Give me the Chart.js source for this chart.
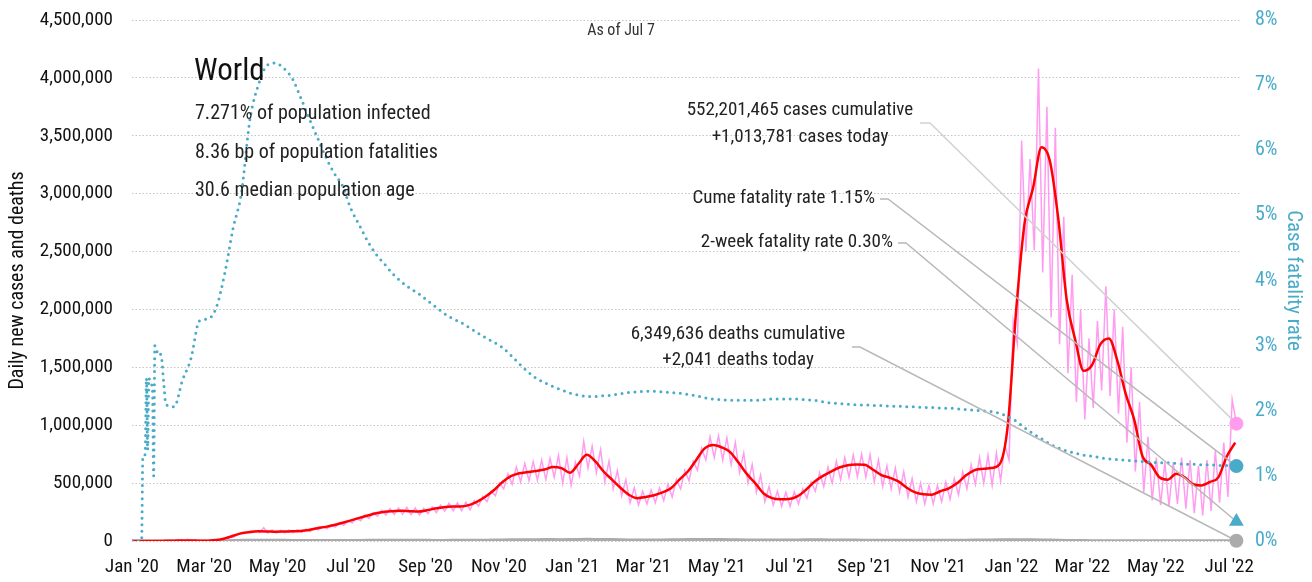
<!DOCTYPE html>
<html>
<head>
<meta charset="utf-8">
<script src="https://cdn.jsdelivr.net/npm/chart.js@4.4.1/dist/chart.umd.min.js"></script>
<style>
  html, body { margin: 0; padding: 0; background: #fff; }
  #wrap { width: 1312px; height: 582px; position: relative; }
</style>
</head>
<body>
<div id="wrap"><canvas id="covid"></canvas></div>
<script>
// World, as of Jul 7 2022. x = days since Jan 1 2020.
// weekly series: entry w sits at day 7*w (daily cases: low at 7w+1, high at 7w+4.5)

const tickDays = [0, 60, 121, 182, 244, 305, 366, 425, 486, 547, 609, 670, 731, 790, 851, 912];
const tickLabels = ["Jan '20", "Mar '20", "May '20", "Jul '20", "Sep '20", "Nov '20", "Jan '21", "Mar '21",
  "May '21", "Jul '21", "Sep '21", "Nov '21", "Jan '22", "Mar '22", "May '22", "Jul '22"];

// 7-day average new cases, thousands (w0..w131)
const avgCases = [
  0, 0, 0, 0.1, 1.5, 2.5, 4, 5, 2, 3,
  8, 22, 45, 68, 78, 84, 83, 80, 81, 84,
  87, 95, 110, 122, 138, 158, 178, 200, 220, 240,
  252, 258, 262, 258, 255, 265, 280, 292, 298, 298,
  310, 340, 385, 440, 510, 560, 585, 595, 605, 618,
  640, 630, 590, 665, 745, 690, 600, 530, 460, 400,
  370, 380, 395, 420, 455, 530, 600, 700, 800, 830,
  810, 770, 680, 580, 500, 410, 370, 360, 362, 385,
  440, 510, 560, 600, 635, 655, 660, 658, 615, 570,
  545, 515, 460, 420, 403, 400, 430, 455, 500, 565,
  610, 623, 630, 660, 1000, 2000, 2750, 3050, 3400, 3280,
  2780, 2080, 1740, 1470, 1520, 1700, 1750, 1560, 1270, 1050,
  730, 660, 550, 530, 580, 550, 490, 480, 510, 550,
  730, 850
];

// daily new cases, weekly trough and peak, thousands (w0..w130)
const dailyLow = [
  0, 0, 0, 0.3, 1, 2, 2, 2, 1, 2,
  5, 15, 35, 60, 70, 72, 70, 68, 70, 72,
  75, 82, 95, 105, 120, 135, 155, 175, 195, 215,
  225, 230, 232, 228, 225, 235, 245, 258, 262, 262,
  270, 300, 340, 390, 450, 490, 510, 520, 525, 530,
  550, 500, 480, 560, 630, 590, 510, 450, 390, 330,
  310, 320, 330, 350, 380, 450, 520, 610, 700, 720,
  700, 660, 590, 500, 420, 340, 310, 300, 300, 320,
  370, 430, 470, 500, 530, 550, 555, 550, 510, 470,
  450, 420, 380, 340, 320, 320, 340, 360, 400, 450,
  490, 500, 480, 520, 700, 1700, 2500, 2510, 2320, 1930,
  1700, 1450, 1200, 1050, 1150, 1300, 1250, 1100, 850, 600,
  420, 350, 310, 300, 320, 280, 240, 220, 260, 330,
  380
];
const dailyHigh = [
  0, 0, 0.5, 1, 3, 4, 15, 6, 3, 5,
  15, 30, 60, 80, 90, 115, 95, 92, 95, 98,
  102, 110, 125, 140, 155, 178, 198, 222, 245, 265,
  280, 285, 290, 285, 282, 295, 310, 325, 330, 335,
  350, 385, 430, 500, 580, 640, 670, 685, 700, 715,
  740, 720, 680, 860, 820, 790, 690, 610, 530, 460,
  430, 440, 460, 490, 530, 610, 690, 800, 900, 910,
  890, 850, 760, 660, 570, 470, 430, 420, 425, 450,
  510, 590, 640, 690, 720, 745, 750, 745, 700, 650,
  630, 600, 540, 500, 480, 480, 510, 540, 600, 660,
  720, 740, 760, 830, 1900, 3460, 3300, 4080, 3750, 3570,
  2800, 2300, 2000, 1750, 1900, 2200, 2000, 1850, 1500, 1200,
  900, 720, 680, 680, 720, 700, 650, 700, 780, 850,
  1220
];

// daily new deaths, 7-day average, thousands (w0..w131)
const avgDeaths = [
  0, 0, 0, 0, 0.03, 0.05, 0.08, 0.1, 0.1, 0.1,
  0.4, 1.5, 3.5, 5.5, 7, 7, 6.5, 6, 5.5, 5,
  4.5, 4.5, 4.5, 4.5, 4.5, 4.8, 5, 5.3, 5.6, 5.8,
  6, 6, 6, 5.8, 5.6, 5.5, 5.3, 5.3, 5.4, 5.5,
  5.8, 6.3, 7, 8, 9.5, 10.5, 11, 11.5, 11.8, 12,
  12, 11.5, 12.5, 14, 14.5, 14, 13, 12, 10.5, 9.5,
  9, 8.8, 8.8, 9.5, 10.5, 11.5, 12.5, 13.5, 13.5, 13,
  12, 11, 10, 9, 8.5, 8, 8, 8.3, 9, 9.5,
  10, 10, 9.8, 9.5, 9, 8.5, 8, 7.5, 7, 7,
  7, 7, 6.8, 6.8, 6.5, 6.3, 6.5, 7, 7.3, 7.5,
  8, 9, 9.5, 10, 10.5, 11, 11, 10, 9, 8,
  6.5, 5, 4, 3.5, 3, 2.5, 2.3, 2.1, 2, 1.9,
  1.8, 1.7, 1.7, 1.7, 1.6, 1.6, 1.6, 1.6, 1.7, 1.8,
  1.9, 2
];

// cumulative case fatality rate, %: daily for days 0..27, then weekly from w4
const cfrFirstDays = [
  0, 0, 0, 0, 0, 0, 0, 0, 0, 1.3,
  1.3, 1.35, 2.5, 1.4, 2.5, 2.45, 2.4, 2.35, 1.0, 3.0,
  2.95, 2.9, 2.88, 2.9, 2.85, 2.75, 2.5, 2.3
];
const cfrWeekly = [
  2.1, 2.06, 2.47, 2.8, 3.38, 3.41,
  3.58, 4.1, 4.8, 5.35, 6.47, 7.0, 7.3, 7.34, 7.26, 7.11,
  6.82, 6.5, 6.2, 5.9, 5.65, 5.45, 5.1, 4.85, 4.6, 4.4,
  4.25, 4.1, 3.98, 3.88, 3.8, 3.7, 3.6, 3.5, 3.42, 3.36,
  3.28, 3.2, 3.12, 3.05, 2.97, 2.85, 2.72, 2.6, 2.5, 2.43,
  2.37, 2.32, 2.27, 2.24, 2.22, 2.22, 2.23, 2.24, 2.26, 2.28,
  2.29, 2.3, 2.3, 2.29, 2.28, 2.27, 2.25, 2.23, 2.2, 2.18,
  2.17, 2.16, 2.16, 2.16, 2.16, 2.17, 2.18, 2.18, 2.18, 2.18,
  2.17, 2.16, 2.14, 2.12, 2.11, 2.1, 2.09, 2.09, 2.08, 2.08,
  2.07, 2.07, 2.06, 2.06, 2.05, 2.05, 2.04, 2.04, 2.03, 2.02,
  2.01, 2.0, 1.99, 1.96, 1.91, 1.84, 1.74, 1.65, 1.57, 1.49,
  1.43, 1.38, 1.35, 1.32, 1.3, 1.28, 1.26, 1.25, 1.24, 1.23,
  1.22, 1.21, 1.2, 1.2, 1.19, 1.18, 1.18, 1.17, 1.17, 1.16,
  1.16, 1.15
];

// latest figures
const lastDay = 918; // Jul 7 2022
const casesCumulative = 552201465;
const casesToday = 1013781;
const deathsCumulative = 6349636;
const deathsToday = 2041;
const cumeFatalityRate = 1.15;
const twoWeekFatalityRate = 0.30;
const pctInfected = '7.271';
const bpFatalities = '8.36';
const medianAge = '30.6';

const FONT = "'Roboto Condensed', 'DejaVu Sans Condensed', sans-serif";
const PINK = '#ff9cf0', RED = '#ff0000', TEAL = '#4aabc9', GRAY = '#ababab';

// build point lists for the library
const avgPts = avgCases.map((v, w) => ({ x: 7 * w, y: v * 1000 }));
const dailyPts = [];
dailyLow.forEach((v, w) => {
  dailyPts.push({ x: 7 * w + 1, y: v * 1000 });
  dailyPts.push({ x: 7 * w + 4.5, y: dailyHigh[w] * 1000 });
});
dailyPts.push({ x: lastDay, y: casesToday });
const deathPts = avgDeaths.map((v, w) => ({ x: 7 * w, y: v * 1000 }));
const cfrPts = cfrFirstDays.map((v, d) => ({ x: d, y: v }))
  .concat(cfrWeekly.map((v, i) => ({ x: 7 * (i + 4), y: v })));

const fmt = n => n.toLocaleString('en-US');

function text(ctx, s, x, y, size, align, color) {
  ctx.save();
  ctx.font = size + 'px ' + FONT;
  ctx.fillStyle = color || '#222';
  ctx.textAlign = align || 'left';
  ctx.textBaseline = 'middle';
  ctx.fillText(s, x, y);
  ctx.restore();
}

// callout text + leader lines to the end markers
const callouts = {
  id: 'callouts',
  afterDatasetDraw(chart, args) {
    if (args.index !== 4) return; // right after the fatality-rate line, below the markers
    const ctx = chart.ctx, xs = chart.scales.x, y = chart.scales.y, y1 = chart.scales.y1;
    const ex = xs.getPixelForValue(lastDay);
    const leaders = [
      { from: [920, 123], elbow: [930, 123], to: [ex, y.getPixelForValue(casesToday)], color: '#d2d2d2' },
      { from: [880, 199], elbow: [888, 199], to: [ex, y1.getPixelForValue(cumeFatalityRate)], color: '#b8b8b8' },
      { from: [898, 243], elbow: [906, 243], to: [ex, y1.getPixelForValue(twoWeekFatalityRate)], color: '#b8b8b8' },
      { from: [852, 347], elbow: [860, 347], to: [ex, y.getPixelForValue(deathsToday)], color: '#b8b8b8' }
    ];
    ctx.save();
    ctx.lineWidth = 1.5;
    leaders.forEach(l => {
      ctx.strokeStyle = l.color;
      ctx.beginPath();
      ctx.moveTo(l.from[0], l.from[1]);
      ctx.lineTo(l.elbow[0], l.elbow[1]);
      ctx.lineTo(l.to[0], l.to[1]);
      ctx.stroke();
    });
    ctx.restore();
  },
  afterDraw(chart) {
    const ctx = chart.ctx;
    text(ctx, 'As of Jul 7', 621, 31, 16, 'center', '#333');
    text(ctx, 'World', 194, 72, 31, 'left', '#111');
    text(ctx, pctInfected + '% of population infected', 195, 114, 20);
    text(ctx, bpFatalities + ' bp of population fatalities', 195, 153, 20);
    text(ctx, medianAge + ' median population age', 195, 191, 20);
    text(ctx, fmt(casesCumulative) + ' cases cumulative', 800, 110, 19, 'center');
    text(ctx, '+' + fmt(casesToday) + ' cases today', 800, 137, 19, 'center');
    text(ctx, 'Cume fatality rate ' + cumeFatalityRate.toFixed(2) + '%', 875, 198, 19, 'right');
    text(ctx, '2-week fatality rate ' + twoWeekFatalityRate.toFixed(2) + '%', 893, 242, 19, 'right');
    text(ctx, fmt(deathsCumulative) + ' deaths cumulative', 738, 334, 19, 'center');
    text(ctx, '+' + fmt(deathsToday) + ' deaths today', 738, 360, 19, 'center');
  }
};

// vertical axes: fixed widths, no extra room above/below for the end labels
const fitVertical = w => s => { s.width = w; s.paddingTop = 0; s.paddingBottom = 0; };

const ctx = document.getElementById('covid');
new Chart(ctx, {
  type: 'line',
  data: {
    datasets: [
      // end markers (first = drawn on top)
      { label: 'cases today', data: [{ x: lastDay, y: casesToday }], yAxisID: 'y', showLine: false, clip: false,
        pointRadius: 7, pointBackgroundColor: PINK, pointBorderWidth: 0 },
      { label: 'cume fatality', data: [{ x: lastDay, y: cumeFatalityRate }], yAxisID: 'y1', showLine: false, clip: false,
        pointRadius: 7, pointBackgroundColor: TEAL, pointBorderWidth: 0 },
      { label: '2-week fatality', data: [{ x: lastDay, y: twoWeekFatalityRate }], yAxisID: 'y1', showLine: false, clip: false,
        pointStyle: 'triangle', pointRadius: 8.5, pointBackgroundColor: TEAL, pointBorderWidth: 0 },
      { label: 'deaths today', data: [{ x: lastDay, y: deathsToday }], yAxisID: 'y', showLine: false, clip: false,
        pointRadius: 7, pointBackgroundColor: GRAY, pointBorderWidth: 0 },
      // lines
      { label: 'Case fatality rate', data: cfrPts, yAxisID: 'y1', borderColor: TEAL, borderWidth: 3,
        borderDash: [0, 6.5], borderCapStyle: 'round', pointRadius: 0, cubicInterpolationMode: 'monotone' },
      { label: '7-day avg cases', data: avgPts, yAxisID: 'y', borderColor: RED, borderWidth: 2.5,
        pointRadius: 0, cubicInterpolationMode: 'monotone' },
      { label: 'Daily cases', data: dailyPts, yAxisID: 'y', borderColor: PINK, borderWidth: 1.5,
        pointRadius: 0, tension: 0 },
      { label: 'Daily deaths', data: deathPts, yAxisID: 'y', borderColor: GRAY, borderWidth: 3,
        pointRadius: 0, tension: 0 }
    ]
  },
  options: {
    responsive: true,
    maintainAspectRatio: false,
    devicePixelRatio: 1,
    animation: false,
    layout: { padding: { top: 20, left: 0, right: 0, bottom: 0 } },
    plugins: { legend: { display: false }, tooltip: { enabled: false } },
    scales: {
      x: {
        type: 'linear', min: 0, max: 921,
        grid: { display: false }, border: { display: false },
        afterBuildTicks: s => { s.ticks = tickDays.map(v => ({ value: v })); },
        afterFit: s => { s.height = 41; },
        ticks: {
          autoSkip: false, maxRotation: 0, padding: 7, color: '#111',
          font: { family: FONT, size: 19 },
          callback: v => tickLabels[tickDays.indexOf(v)]
        }
      },
      y: {
        position: 'left', min: 0, max: 4500000,
        afterFit: fitVertical(132),
        grid: { color: '#c4c4c4', lineWidth: 1, drawTicks: false },
        border: { display: false, dash: [1.5, 2] },
        ticks: { stepSize: 500000, padding: 19, color: '#111', font: { family: FONT, size: 19 },
          callback: v => fmt(v) },
        title: { display: true, text: 'Daily new cases and deaths', color: '#111',
          font: { family: FONT, size: 20 }, padding: { top: 6, bottom: 0 } }
      },
      y1: {
        position: 'right', min: 0, max: 8,
        afterFit: fitVertical(72),
        grid: { display: false, drawTicks: false }, border: { display: false },
        ticks: { stepSize: 1, padding: 15, color: TEAL, font: { family: FONT, size: 20 },
          callback: v => v + '%' },
        title: { display: true, text: 'Case fatality rate', color: TEAL,
          font: { family: FONT, size: 21 }, padding: { top: 6, bottom: 0 } }
      }
    }
  },
  plugins: [callouts]
});
</script>
</body>
</html>
